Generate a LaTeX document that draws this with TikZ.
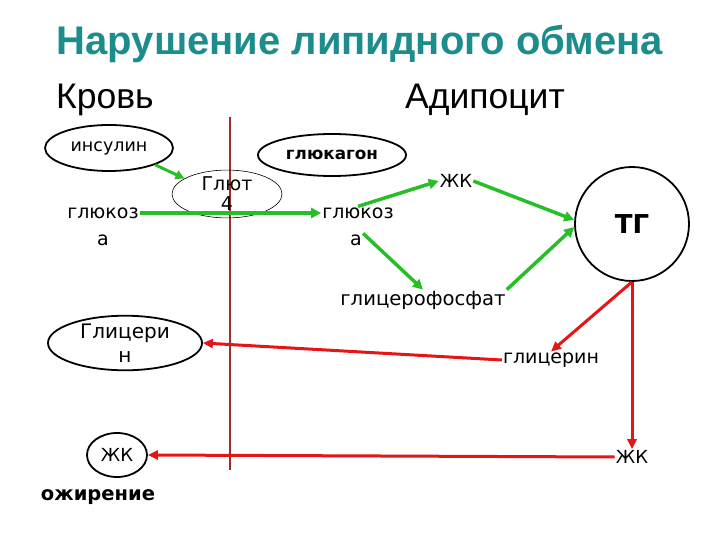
\documentclass[tikz,border=0pt]{standalone}
\usepackage{fontspec}
\setmainfont{DejaVu Sans}
\newfontfamily\arialf{Liberation Sans}
\usetikzlibrary{shapes.geometric,arrows.meta,calc}
\definecolor{teal1}{RGB}{28,140,140}
\definecolor{grn}{RGB}{40,190,40}
\definecolor{rd}{RGB}{230,20,20}
\definecolor{brn}{RGB}{160,45,40}
\begin{document}
\begin{tikzpicture}[x=1pt,y=-1pt,
  txt/.style={inner sep=1pt, font=\fontsize{19}{21}\selectfont},
  oval/.style={draw, ellipse, line width=1.8pt, inner sep=0pt, align=center},
  garrow/.style={draw=grn, line width=3.5pt, -{Triangle[length=10pt,width=10pt]}},
  rarrow/.style={draw=rd, line width=3pt, -{Triangle[length=10pt,width=9pt]}}]
\useasboundingbox (0,0) rectangle (720,540);
% titles
\node[anchor=base, text=teal1, font=\arialf\bfseries\fontsize{40}{44}\selectfont] (title) at (360,55) {Нарушение липидного обмена};
\node[anchor=base west, inner sep=0pt, font=\arialf\fontsize{35.5}{38}\selectfont] (krov) at (56,109) {Кровь};
\node[anchor=base west, inner sep=0pt, font=\arialf\fontsize{35.5}{38}\selectfont] (adipo) at (405,109) {Адипоцит};
% membrane
\coordinate (mtop) at (230,117);
\coordinate (mbot) at (230,470);
\draw[brn, line width=1.8pt] (mtop) -- (mbot);
% nodes
\node[oval, minimum width=128, minimum height=46, font=\fontsize{17.5}{19}\selectfont] (ins) at (109,148) {инсулин};
\node[draw, ellipse, line width=0.6pt, inner sep=0pt, minimum width=110, minimum height=41, align=center, font=\fontsize{19}{20}\selectfont] (glut) at (227,194) {Глют\\4};
\node[txt] (glu1a) at (103,213) {глюкоз};
\node[txt] (glu1b) at (103,240) {а};
\node[oval, minimum width=148, minimum height=42, font=\bfseries\fontsize{16.8}{18}\selectfont] (gcg) at (332,155) {глюкагон};
\node[txt] (glu2a) at (358,213) {глюкоз};
\node[txt] (glu2b) at (356,240) {а};
\node[txt, font=\fontsize{18}{20}\selectfont] (zk1) at (456,181) {ЖК};
\node[draw, circle, line width=1.8pt, minimum size=114, inner sep=0pt, font=\bfseries\fontsize{26}{28}\selectfont] (tg) at (632,224) {ТГ};
\node[txt, font=\fontsize{19.6}{21}\selectfont] (gph) at (423,300) {глицерофосфат};
\node[txt, font=\fontsize{19}{21}\selectfont] (glyc) at (551,360) {глицерин};
\node[oval, minimum width=154, minimum height=44, font=\fontsize{20}{24}\selectfont] (Glyc) at (125,343) {Глицери\\н};
\node[oval, minimum width=60, minimum height=44, font=\fontsize{18}{20}\selectfont] (zkE) at (117,455) {ЖК};
\node[txt, font=\fontsize{18}{20}\selectfont] (zk2) at (632,457) {ЖК};
\node[txt, font=\bfseries\fontsize{19.5}{21}\selectfont] (ozh) at (98,497) {ожирение};
% green arrows
\draw[draw=grn, line width=3pt, -{Triangle[length=9pt,width=9pt]}] (ins.-20) -- (glut.160);
\draw[garrow] (glu1a.east) -- (glu2a.west);
\draw[garrow] (glu2a.north) -- (zk1.west);
\draw[garrow] (zk1.east) -- (tg.176);
\draw[garrow] (glu2b.north east) -- (gph.north);
\draw[garrow] (gph.north east) -- (tg.183);
% red arrows
\draw[rarrow] (tg.south) -- (glyc.north);
\draw[rarrow] (tg.south) -- (zk2.north);
\draw[rarrow] (glyc.west) -- (Glyc.east);
\draw[rarrow] (zk2.west) -- (zkE.east);
\end{tikzpicture}
\end{document}
